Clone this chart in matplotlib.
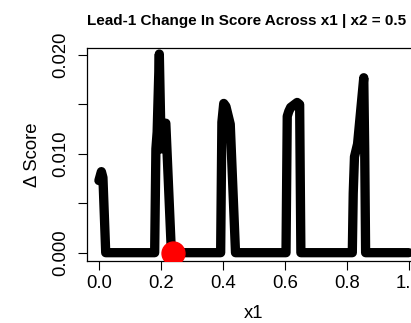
import matplotlib
matplotlib.use("Agg")
import matplotlib.pyplot as plt

plt.rcParams["font.family"] = ["Liberation Sans", "DejaVu Sans"]

# lead-1 change in score along x1, with x2 held at 0.5
x1 = [0.000, 0.008, 0.013, 0.022,
      0.180, 0.184, 0.188, 0.195, 0.201, 0.206, 0.216, 0.234,
      0.393, 0.397, 0.403, 0.410, 0.424, 0.441,
      0.604, 0.608, 0.613, 0.619, 0.640, 0.648, 0.652,
      0.818, 0.821, 0.825, 0.835, 0.855, 0.858, 0.861, 1.000]
delta = [0.0073, 0.0082, 0.0076, 0.0000,
         0.0000, 0.0105, 0.0122, 0.0201, 0.0105, 0.0127, 0.0131, 0.0000,
         0.0000, 0.0132, 0.0151, 0.0148, 0.0130, 0.0000,
         0.0000, 0.0138, 0.0143, 0.0147, 0.0152, 0.0150, 0.0000,
         0.0000, 0.0060, 0.0097, 0.0110, 0.0177, 0.0105, 0.0000, 0.0000]

# current x1 value
x1_now = [0.24]
delta_now = [0.0]

x_ticks = [0.0, 0.2, 0.4, 0.6, 0.8, 1.0]
y_ticks = [0.000, 0.005, 0.010, 0.015, 0.020]
y_tick_labels = ["0.000", "", "0.010", "", "0.020"]

fig = plt.figure(figsize=(4.11, 3.23), dpi=100)
ax = fig.add_axes([0.2105, 0.192, 0.814, 0.6585])

ax.plot(x1, delta, color="black", lw=6.7, solid_capstyle="round",
        solid_joinstyle="round")
ax.plot(x1_now, delta_now, "o", color="red", markersize=16.5, zorder=3)

ax.set_xlim(-0.04, 1.04)
ax.set_ylim(-0.00084, 0.02068)

ax.set_xticks(x_ticks)
ax.set_xticklabels(["%.1f" % v for v in x_ticks])
ax.set_yticks(y_ticks)
ax.set_yticklabels(y_tick_labels, rotation=90, va="center")
ax.tick_params(direction="out", length=6.2, width=0.8, labelsize=13.3,
               colors="black")
ax.tick_params(axis="x", pad=4)
ax.tick_params(axis="y", pad=6)
for s in ax.spines.values():
    s.set_linewidth(0.9)

ax.set_xlabel("x1", fontsize=13.3, labelpad=9)
ax.set_ylabel("\u0394 Score", fontsize=13.3, labelpad=8)
ax.set_title("Lead-1 Change In Score Across x1 | x2 = 0.5", loc="left",
             fontsize=11.0, fontweight="bold", pad=17)

fig.savefig("out.png", dpi=100)
